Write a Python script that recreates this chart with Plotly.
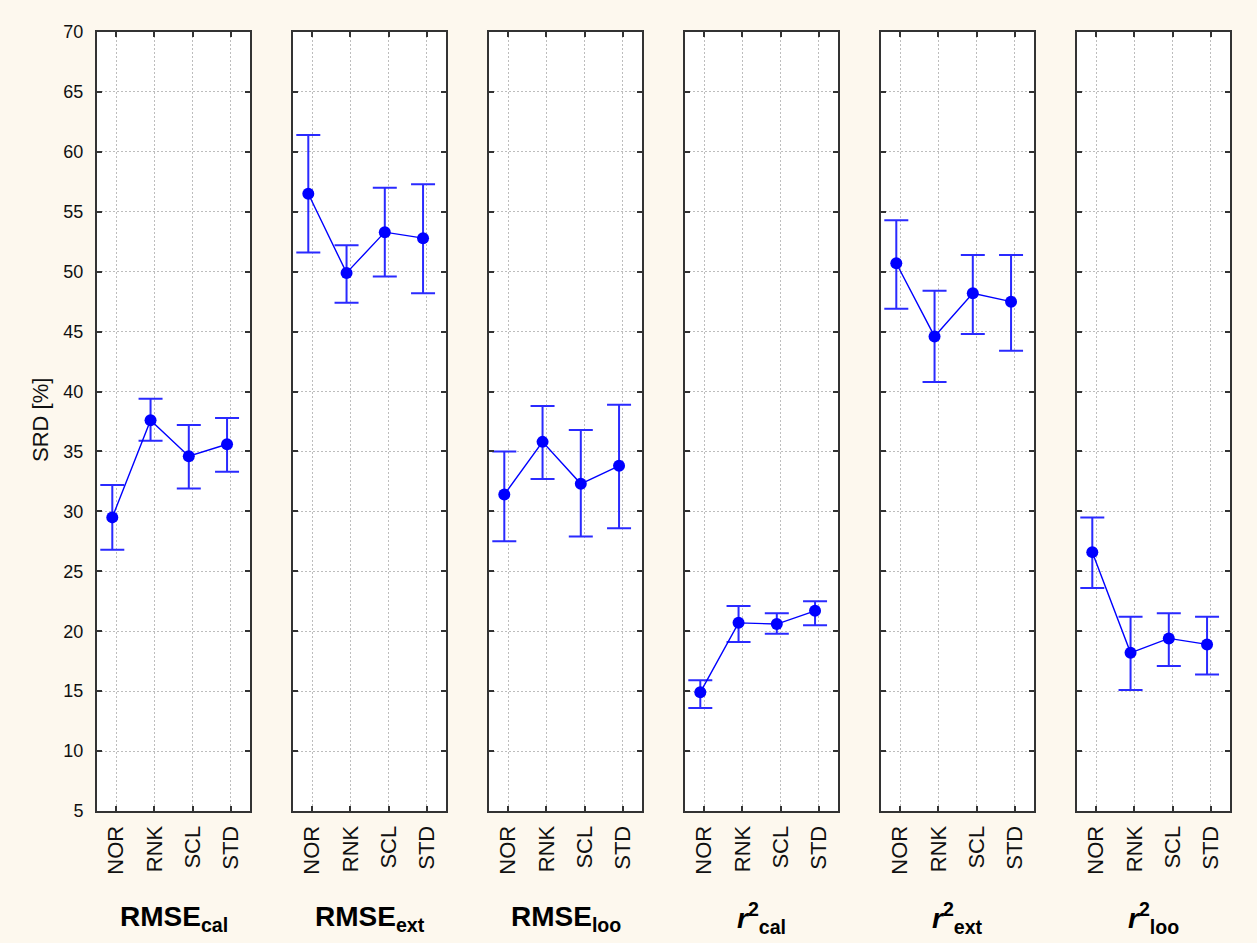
import plotly.graph_objects as go

categories = ["NOR", "RNK", "SCL", "STD"]
panel_titles = [
    "<b>RMSE<sub>cal</sub></b>",
    "<b>RMSE<sub>ext</sub></b>",
    "<b>RMSE<sub>loo</sub></b>",
    "<b><i>r</i><sup>2</sup><sub>cal</sub></b>",
    "<b><i>r</i><sup>2</sup><sub>ext</sub></b>",
    "<b><i>r</i><sup>2</sup><sub>loo</sub></b>",
]

rmse_cal_mean = [29.5, 37.6, 34.6, 35.6]
rmse_cal_upper = [32.2, 39.4, 37.2, 37.8]
rmse_cal_lower = [26.8, 35.9, 31.9, 33.3]

rmse_ext_mean = [56.5, 49.9, 53.3, 52.8]
rmse_ext_upper = [61.4, 52.2, 57.0, 57.3]
rmse_ext_lower = [51.6, 47.4, 49.6, 48.2]

rmse_loo_mean = [31.4, 35.8, 32.3, 33.8]
rmse_loo_upper = [35.0, 38.8, 36.8, 38.9]
rmse_loo_lower = [27.5, 32.7, 27.9, 28.6]

r2_cal_mean = [14.9, 20.7, 20.6, 21.7]
r2_cal_upper = [15.9, 22.1, 21.5, 22.5]
r2_cal_lower = [13.6, 19.1, 19.8, 20.5]

r2_ext_mean = [50.7, 44.6, 48.2, 47.5]
r2_ext_upper = [54.3, 48.4, 51.4, 51.4]
r2_ext_lower = [46.9, 40.8, 44.8, 43.4]

r2_loo_mean = [26.6, 18.2, 19.4, 18.9]
r2_loo_upper = [29.5, 21.2, 21.5, 21.2]
r2_loo_lower = [23.6, 15.1, 17.1, 16.4]

y_ticks = list(range(5, 71, 5))

panels = [
    (rmse_cal_mean, rmse_cal_upper, rmse_cal_lower),
    (rmse_ext_mean, rmse_ext_upper, rmse_ext_lower),
    (rmse_loo_mean, rmse_loo_upper, rmse_loo_lower),
    (r2_cal_mean, r2_cal_upper, r2_cal_lower),
    (r2_ext_mean, r2_ext_upper, r2_ext_lower),
    (r2_loo_mean, r2_loo_upper, r2_loo_lower),
]

W, H = 1257, 943
FONT = "Arial, Liberation Sans, sans-serif"
BLUE = "#0000ff"
EBLUE = "#2a2aff"
AXC = "#333333"

panel_left0 = 97
panel_step = 196
panel_w = 153
y_top_px, y_bot_px = 32, 811
ydom = [1 - y_bot_px / H, 1 - y_top_px / H]

fig = go.Figure()
layout = {}
annotations = []
xpos = list(range(len(categories)))
shift = -0.1

for k, (m, up, lo) in enumerate(panels):
    sfx = "" if k == 0 else str(k + 1)
    left = panel_left0 + k * panel_step
    xd = [left / W, (left + panel_w) / W]
    fig.add_trace(go.Scatter(
        x=[p + shift for p in xpos], y=m,
        mode="lines+markers",
        line=dict(color=BLUE, width=1.4),
        marker=dict(color=BLUE, size=12, symbol="circle"),
        error_y=dict(type="data", symmetric=False,
                     array=[u - v for u, v in zip(up, m)],
                     arrayminus=[v - l for v, l in zip(m, lo)],
                     color=EBLUE, thickness=2, width=12),
        xaxis="x" + sfx, yaxis="y" + sfx, showlegend=False,
        hoverinfo="skip",
    ))
    layout["xaxis" + sfx] = dict(
        domain=xd, anchor="y" + sfx, range=[-0.5, 3.5],
        tickmode="array", tickvals=xpos, ticktext=categories,
        tickangle=-90, ticks="inside", ticklen=5, tickwidth=2, tickcolor=AXC,
        showline=True, linecolor=AXC, linewidth=2, mirror="ticks",
        showgrid=True, gridcolor="#bdbdbd", griddash="2px,2px", gridwidth=1,
        zeroline=False, tickfont=dict(family=FONT, size=22, color="#111111"),
        ticklabelstandoff=4, automargin=False, fixedrange=True,
    )
    layout["yaxis" + sfx] = dict(
        domain=ydom, anchor="x" + sfx, range=[5, 70],
        tickmode="array", tickvals=y_ticks,
        ticks="inside", ticklen=5, tickwidth=2, tickcolor=AXC,
        showline=True, linecolor=AXC, linewidth=2, mirror="ticks",
        showgrid=True, gridcolor="#bdbdbd", griddash="2px,2px", gridwidth=1,
        zeroline=False, showticklabels=(k == 0),
        tickfont=dict(family=FONT, size=18, color="#111111"),
        ticklabelstandoff=8, automargin=False, fixedrange=True,
    )
    annotations.append(dict(
        x=(left + panel_w / 2) / W, y=1 - 918 / H, xref="paper", yref="paper",
        text=panel_titles[k], showarrow=False, xanchor="center", yanchor="middle",
        font=dict(family=FONT, size=28, color="#000000"),
    ))

annotations.append(dict(
    x=40 / W, y=1 - 420 / H, xref="paper", yref="paper",
    text="SRD [%]", showarrow=False, textangle=-90,
    xanchor="center", yanchor="middle",
    font=dict(family=FONT, size=22, color="#111111"),
))

fig.update_layout(
    width=W, height=H,
    margin=dict(l=0, r=0, t=0, b=0),
    paper_bgcolor="#fdf8ee",
    plot_bgcolor="#ffffff",
    annotations=annotations,
    **layout,
)

fig.write_html("out.html", config={"displayModeBar": False})
